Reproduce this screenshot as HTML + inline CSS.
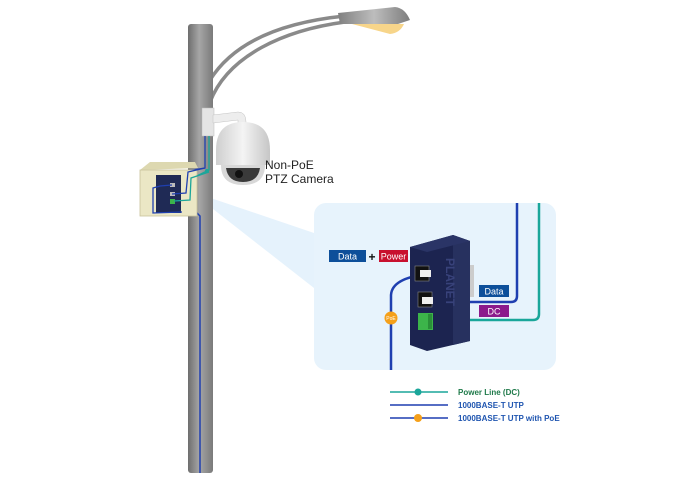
<!DOCTYPE html>
<html><head><meta charset="utf-8"><style>
html,body{margin:0;padding:0;background:#fff;width:700px;height:485px;overflow:hidden}
svg{display:block}
text{font-family:"Liberation Sans",sans-serif}
</style></head><body>
<svg width="700" height="485" viewBox="0 0 700 485" xmlns="http://www.w3.org/2000/svg">
<defs>
<linearGradient id="pole" x1="0" x2="1"><stop offset="0" stop-color="#6e6e6e"/><stop offset="0.45" stop-color="#a6a6a6"/><stop offset="1" stop-color="#7a7a7a"/></linearGradient>
<linearGradient id="lamp" x1="0" x2="1"><stop offset="0" stop-color="#808080"/><stop offset="0.5" stop-color="#bdbdbd"/><stop offset="1" stop-color="#7d7d7d"/></linearGradient>
<linearGradient id="cam" x1="0" x2="1"><stop offset="0" stop-color="#cfcfcf"/><stop offset="0.5" stop-color="#f4f4f4"/><stop offset="1" stop-color="#c6c6c6"/></linearGradient>
</defs>
<!-- beam -->
<polygon points="190,191 314,233 314,288" fill="#e5f2fc"/>
<!-- panel -->
<rect x="314" y="203" width="242" height="167" rx="12" fill="#e7f3fc"/>
<!-- lamp arms -->
<path d="M210,80 C235,40 285,22 345,16" stroke="#8a8a8a" stroke-width="3.5" fill="none"/>
<path d="M210,102 C228,55 285,30 345,22" stroke="#8a8a8a" stroke-width="3.5" fill="none"/>
<!-- lamp head -->
<path d="M338,13 L395,7 Q405,8 410,20 L398,24 L340,24 Z" fill="url(#lamp)"/>
<path d="M352,24 L404,24 Q400,33 390,34 Z" fill="#f7d58a"/>
<!-- pole -->
<rect x="188" y="24" width="25" height="449" rx="3" fill="url(#pole)"/>
<path d="M180,212 L196,212 L200,216 L200,473" stroke="#1f3fb0" stroke-width="1.5" fill="none"/>
<!-- bracket -->
<rect x="202" y="108" width="12" height="28" fill="#e4e4e4" stroke="#bbb" stroke-width="0.5"/>
<path d="M213,115 L238,112 Q246,112 246,122 L246,125 L238,125 L238,120 L213,123 Z" fill="#ededed" stroke="#c4c4c4" stroke-width="0.5"/>
<!-- cables from camera -->
<path d="M205,136 L205,168 L160,175" stroke="#1f3fb0" stroke-width="1.3" fill="none"/>
<path d="M209,136 L209,170 L178,185 L176,198" stroke="#1aa69a" stroke-width="1.3" fill="none"/>
<circle cx="207" cy="171" r="2" fill="#1aa69a"/>
<!-- camera -->
<path d="M216,150 Q216,122 243,122 Q270,122 270,150 L270,165 L216,165 Z" fill="url(#cam)"/>
<path d="M221,165 L265,165 Q265,185 243,185 Q221,185 221,165 Z" fill="#d8d8d8"/>
<path d="M226,168 L260,168 Q258,182 243,182 Q228,182 226,168 Z" fill="#3a3a3a"/>
<circle cx="239" cy="174" r="4" fill="#111"/>
<text x="265" y="169" font-size="12" fill="#222">Non-PoE</text>
<text x="265" y="183" font-size="12" fill="#222">PTZ Camera</text>
<!-- box -->
<polygon points="140,170 150,162 195,162 198,168" fill="#ddd8b0"/>
<rect x="140" y="170" width="57" height="46" fill="#ebe7c5" stroke="#c9c39a" stroke-width="0.8"/>
<rect x="156" y="175" width="25" height="38" fill="#1f2a55"/>
<rect x="170" y="183" width="5" height="4" fill="#bbb"/>
<rect x="170" y="192" width="5" height="4" fill="#bbb"/>
<rect x="170" y="199" width="5" height="5" fill="#3cb44a"/>
<path d="M172,185 L160,186 L153,188 L153,213 L182,212" stroke="#1f3fb0" stroke-width="1.3" fill="none"/>
<path d="M172,194 L186,193 L188,172 L205,168" stroke="#1f3fb0" stroke-width="1.3" fill="none"/>
<path d="M174,201 L190,200 L191,178 L209,172" stroke="#1aa69a" stroke-width="1.3" fill="none"/>
<!-- panel lines -->
<path d="M517,203 L517,296 Q517,302 511,302 L432,302" stroke="#1f3fb0" stroke-width="2.5" fill="none"/>
<path d="M539,203 L539,314 Q539,320 533,320 L440,320" stroke="#1aa69a" stroke-width="2.5" fill="none"/>
<path d="M428,274 Q392,278 391,295 L391,370" stroke="#1f3fb0" stroke-width="2.5" fill="none"/>
<!-- device -->
<polygon points="410,247 453,235 470,241 470,341 427,351 410,345" fill="#1c2450"/>
<polygon points="453,235 470,241 470,341 453,345" fill="#27315f"/>
<polygon points="410,247 453,235 470,241 427,252" fill="#2a3466"/>
<rect x="470" y="265" width="4" height="32" fill="#ccc"/>
<text x="0" y="0" font-size="12" font-weight="bold" fill="#38427a" transform="translate(446,258) rotate(90)">PLANET</text>
<rect x="415" y="266" width="14" height="15" fill="#111" stroke="#888" stroke-width="0.6"/>
<rect x="420" y="270" width="11" height="7" fill="#eee"/>
<rect x="418" y="292" width="14" height="15" fill="#111" stroke="#888" stroke-width="0.6"/>
<rect x="422" y="297" width="11" height="7" fill="#eee"/>
<rect x="418" y="313" width="15" height="17" fill="#3cb44a"/>
<rect x="428" y="314" width="4" height="15" fill="#2a8f38"/>
<!-- labels -->
<rect x="329" y="250" width="37" height="12" fill="#0d4f9a"/>
<text x="347.5" y="259.5" font-size="9" fill="#fff" text-anchor="middle">Data</text>
<text x="372" y="261" font-size="12" font-weight="bold" fill="#111" text-anchor="middle">+</text>
<rect x="379" y="250" width="29" height="12" fill="#c8102e"/>
<text x="393.5" y="259.5" font-size="9" fill="#fff" text-anchor="middle">Power</text>
<rect x="479" y="285" width="30" height="12" fill="#0d4f9a"/>
<text x="494" y="294.5" font-size="9" fill="#fff" text-anchor="middle">Data</text>
<rect x="479" y="305" width="30" height="12" fill="#8c1a8c"/>
<text x="494" y="314.5" font-size="9" fill="#fff" text-anchor="middle">DC</text>
<circle cx="391" cy="318" r="6.5" fill="#f5a01a"/>
<text x="391" y="320" font-size="5" fill="#fff" text-anchor="middle">PoE</text>
<!-- legend -->
<line x1="390" y1="392" x2="448" y2="392" stroke="#1aa69a" stroke-width="1.5"/>
<circle cx="418" cy="392" r="3.5" fill="#1aa69a"/>
<text x="458" y="395" font-size="8" font-weight="bold" fill="#1f7a4a">Power Line (DC)</text>
<line x1="390" y1="405" x2="448" y2="405" stroke="#1f3fb0" stroke-width="1.5"/>
<text x="458" y="408" font-size="8" font-weight="bold" fill="#1f55b0">1000BASE-T UTP</text>
<line x1="390" y1="418" x2="448" y2="418" stroke="#1f3fb0" stroke-width="1.5"/>
<circle cx="418" cy="418" r="4" fill="#f5a01a"/>
<text x="458" y="421" font-size="8" font-weight="bold" fill="#1f55b0">1000BASE-T UTP with PoE</text>
</svg>
</body></html>
